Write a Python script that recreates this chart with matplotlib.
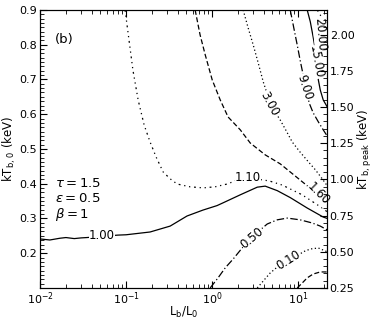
import numpy as np
import matplotlib
matplotlib.use("Agg")
import matplotlib.pyplot as plt
from matplotlib.ticker import AutoMinorLocator, MultipleLocator, LogLocator, NullFormatter, FormatStrFormatter

# contour lines: (L_b/L_0, kT_b,0 [keV])
c001_x = [9.73, 11.1, 12.7, 14.9, 18.0, 21.7]
c001_y = [0.100, 0.114, 0.129, 0.140, 0.146, 0.146]

c010_x = [3.34, 3.92, 4.72, 5.70, 7.65, 9.73, 11.4, 13.8, 17.1, 21.7]
c010_y = [0.100, 0.120, 0.143, 0.160, 0.178, 0.192, 0.204, 0.212, 0.215, 0.204]

c050_x = [0.948, 1.17, 1.42, 1.75, 2.23, 2.92, 3.61, 4.36, 5.70, 7.45, 10.5, 14.5, 18.0, 21.7]
c050_y = [0.100, 0.129, 0.158, 0.183, 0.215, 0.244, 0.267, 0.284, 0.296, 0.301, 0.296, 0.287, 0.278, 0.267]

c100_x = [0.01, 0.013, 0.017, 0.02, 0.025, 0.03, 0.035, 0.05, 0.08, 0.1, 0.19, 0.325, 0.51, 0.78,
          1.14, 1.34, 2.12, 3.34, 4.13, 5.7, 8.07, 12.7, 19.5, 21.7]
c100_y = [0.241, 0.238, 0.243, 0.245, 0.242, 0.244, 0.245, 0.248, 0.252, 0.253, 0.261, 0.278, 0.307, 0.324,
          0.337, 0.345, 0.368, 0.390, 0.393, 0.380, 0.360, 0.330, 0.304, 0.300]

c110_x = [0.0973, 0.108, 0.120, 0.138, 0.162, 0.190, 0.223, 0.269, 0.325, 0.392, 0.555, 0.785, 1.08, 1.49,
          1.85, 2.62, 3.81, 4.60, 6.52, 11.1, 19.0, 21.7]
c110_y = [0.900, 0.814, 0.727, 0.641, 0.569, 0.520, 0.477, 0.434, 0.414, 0.399, 0.391, 0.388, 0.391, 0.399,
          0.408, 0.417, 0.411, 0.408, 0.396, 0.368, 0.330, 0.319]

c160_x = [0.634, 0.724, 0.83, 1.0, 1.24, 1.53, 2.12, 2.77, 4.13, 6.18, 9.23, 12.7, 14.9, 17.1, 21.7]
c160_y = [0.900, 0.828, 0.771, 0.699, 0.641, 0.592, 0.555, 0.517, 0.483, 0.457, 0.422, 0.394, 0.379, 0.368, 0.342]

c300_x = [2.29, 2.62, 3.0, 3.43, 3.92, 4.6, 5.4, 6.18, 7.25, 8.51, 10.5, 13.1, 15.8, 19.0, 21.7]
c300_y = [0.900, 0.848, 0.799, 0.747, 0.693, 0.641, 0.606, 0.583, 0.552, 0.520, 0.491, 0.463, 0.440, 0.414, 0.394]

c900_x = [8.07, 8.98, 9.73, 10.5, 11.4, 12.4, 13.4, 14.9, 17.1, 19.5, 21.7]
c900_y = [0.900, 0.842, 0.799, 0.756, 0.713, 0.670, 0.632, 0.604, 0.578, 0.555, 0.537]

c1500_x = [12.7, 13.8, 14.9, 15.8, 16.6, 17.1, 18.0, 19.5, 21.7]
c1500_y = [0.900, 0.866, 0.822, 0.785, 0.742, 0.699, 0.670, 0.641, 0.621]

c2000_x = [16.6, 18.0, 19.5, 21.7]
c2000_y = [0.900, 0.886, 0.866, 0.842]

# contour labels: text, x, y, rotation
labels = [
    ("1.00", 0.0526, 0.250, 0),
    ("1.10", 2.62, 0.417, 0),
    ("0.50", 2.92, 0.244, 40),
    ("0.10", 7.65, 0.180, 32),
    ("1.60", 17.1, 0.370, -45),
    ("3.00", 4.6, 0.630, -62),
    ("9.00", 11.8, 0.678, -72),
    ("15.00", 16.2, 0.750, -80),
    ("20.00", 18.0, 0.830, -85),
]

left_ticks = [0.2, 0.3, 0.4, 0.5, 0.6, 0.7, 0.8, 0.9]

fig = plt.figure(figsize=(3.74, 3.21), dpi=100)
ax = fig.add_axes([0.107, 0.103, 0.767, 0.866])

lw = 0.9
ax.plot(c001_x, c001_y, color="k", lw=lw, ls=(0, (4, 2)))
ax.plot(c010_x, c010_y, color="k", lw=lw, ls=(0, (1, 2)))
ax.plot(c050_x, c050_y, color="k", lw=lw, ls=(0, (6, 2, 1, 2)))
ax.plot(c100_x, c100_y, color="k", lw=lw, ls="-")
ax.plot(c110_x, c110_y, color="k", lw=lw, ls=(0, (1.5, 3, 1, 3, 1, 3)))
ax.plot(c160_x, c160_y, color="k", lw=lw, ls=(0, (4, 2)))
ax.plot(c300_x, c300_y, color="k", lw=lw, ls=(0, (1, 2)))
ax.plot(c900_x, c900_y, color="k", lw=lw, ls=(0, (6, 2, 1, 2)))
ax.plot(c1500_x, c1500_y, color="k", lw=lw, ls="-")
ax.plot(c2000_x, c2000_y, color="k", lw=lw, ls=(0, (1.5, 3, 1, 3, 1, 3)))

for s, x, y, r in labels:
    ax.text(x, y, s, rotation=r, ha="center", va="center", fontsize=8.5,
            bbox=dict(fc="white", ec="none", pad=0.2))

ax.set_xscale("log")
ax.set_xlim(0.01, 21.5)
ax.set_ylim(0.1, 0.9)
ax.set_yticks(left_ticks)
ax.yaxis.set_minor_locator(AutoMinorLocator(8))
ax.xaxis.set_minor_locator(LogLocator(base=10, subs=np.arange(2, 10)))
ax.xaxis.set_minor_formatter(NullFormatter())
ax.tick_params(which="both", direction="in", top=True, right=False, labelsize=8, pad=2)
ax.tick_params(which="major", length=5)
ax.tick_params(which="minor", length=3)

ax.set_xlabel(r"L$_{\rm b}$/L$_0$", fontsize=8.5)
ax.xaxis.set_label_coords(0.5, -0.06)
ax.set_ylabel(r"kT$_{\rm b,\,0}$ (keV)", fontsize=8.5, labelpad=1)

ax2 = ax.twinx()
ax2.set_ylim(0.25, 2.17)
ax2.yaxis.set_major_locator(MultipleLocator(0.25))
ax2.yaxis.set_minor_locator(MultipleLocator(0.05))
ax2.yaxis.set_major_formatter(FormatStrFormatter("%.2f"))
ax2.tick_params(which="both", direction="in", labelsize=8, pad=2)
ax2.tick_params(which="major", length=5)
ax2.tick_params(which="minor", length=3)
ax2.set_ylabel(r"kT$_{\rm b,\,peak}$ (keV)", fontsize=8.5, rotation=90, labelpad=1)

ax.text(0.052, 0.892, "(b)", transform=ax.transAxes, fontsize=9.5, va="center")
ax.text(0.052, 0.374, r"$\tau = 1.5$", transform=ax.transAxes, fontsize=9.5, va="center")
ax.text(0.052, 0.320, r"$\epsilon = 0.5$", transform=ax.transAxes, fontsize=9.5, va="center")
ax.text(0.052, 0.263, r"$\beta = 1$", transform=ax.transAxes, fontsize=9.5, va="center")

fig.savefig("out.png", dpi=100)
